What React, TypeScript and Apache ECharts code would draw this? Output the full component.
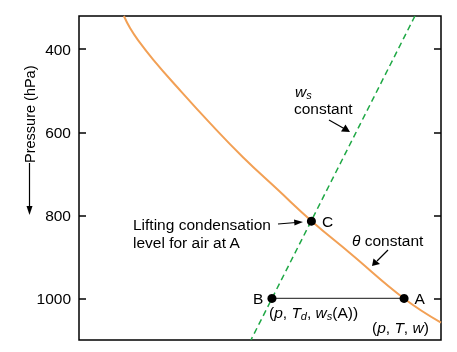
import React, { useEffect, useRef } from "react";
import * as echarts from "echarts";

// theta-constant curve (dry adiabat), x in arbitrary temperature units, p in hPa
const thetaX = [12.4, 14.1, 16.3, 20.6, 27.1, 36.2, 45.3, 55.0, 64.3, 74.9, 89.8, 100];
const thetaP = [320, 349, 378, 426, 491, 578, 660, 739, 814, 891, 1000, 1058];
// ws-constant line
const wsX = [92.8, 47.5];
const wsP = [320, 1100];
// labelled points
const pointNames = ["B", "A", "C"];
const pointX = [53.3, 89.8, 64.2];
const pointP = [1000, 1000, 814];
const yTicks = [400, 600, 800, 1000];

const FONT = "Liberation Sans, Arial, Helvetica, sans-serif";
const FS = 15.5;

export default function App() {
  const ref = useRef<HTMLDivElement>(null);
  useEffect(() => {
    if (!ref.current) return;
    const chart = echarts.init(ref.current, null, { renderer: "svg" });
    const labelPos = ["left", "right", "right"];
    const labelDist = [4, 6, 6];
    const rich = {
      n: { fontSize: FS, fontFamily: FONT, color: "#000" },
      i: { fontSize: FS, fontFamily: FONT, fontStyle: "italic", color: "#000" },
      sub: { fontSize: 11, fontFamily: FONT, fontStyle: "italic", color: "#000", padding: [7, 0, 0, 0] },
    };
    chart.setOption({
      animation: false,
      grid: { left: 79, right: 16, top: 16, bottom: 12, show: true, borderColor: "#000", borderWidth: 1.5 },
      xAxis: {
        type: "value", min: 0, max: 100,
        axisLine: { show: false }, axisTick: { show: false }, axisLabel: { show: false }, splitLine: { show: false },
      },
      yAxis: [
        {
          type: "value", position: "left", inverse: true, min: 320, max: 1100,
          axisLine: { show: false },
          axisTick: { show: true, inside: true, length: 7, customValues: yTicks, lineStyle: { color: "#000", width: 1.5 } },
          axisLabel: { customValues: yTicks, formatter: (v: number) => String(v), margin: 8, fontSize: FS, color: "#000", fontFamily: FONT },
          splitLine: { show: false },
        },
        {
          type: "value", position: "right", inverse: true, min: 320, max: 1100,
          axisLine: { show: false },
          axisTick: { show: true, inside: true, length: 7, customValues: yTicks, lineStyle: { color: "#000", width: 1.5 } },
          axisLabel: { show: false },
          splitLine: { show: false },
        },
      ],
      series: [
        {
          type: "line", smooth: 0.45, symbol: "none",
          data: thetaX.map((x, i) => [x, thetaP[i]]),
          lineStyle: { color: "#f2a055", width: 2 },
        },
        {
          type: "line", symbol: "none",
          data: wsX.map((x, i) => [x, wsP[i]]),
          lineStyle: { color: "#1fa845", width: 1.5, type: [6, 4] },
        },
        {
          type: "line", symbol: "none",
          data: [[pointX[0], pointP[0]], [pointX[1], pointP[1]]],
          lineStyle: { color: "#444", width: 1.2 },
        },
        {
          type: "scatter", symbolSize: 9, z: 5, itemStyle: { color: "#000", opacity: 1 },
          data: pointNames.map((n, i) => ({
            value: [pointX[i], pointP[i]], name: n,
            label: { show: true, position: labelPos[i], formatter: n, distance: labelDist[i], fontSize: FS, color: "#000", fontFamily: FONT },
          })),
        },
      ],
      graphic: [
        // y-axis title and arrow
        { type: "text", x: 22, y: 163, rotation: Math.PI / 2, style: { text: "Pressure (hPa)", fontSize: 14.5, fontFamily: FONT, fill: "#000", align: "left", verticalAlign: "top" } },
        { type: "line", shape: { x1: 29.5, y1: 163, x2: 29.5, y2: 208 }, style: { stroke: "#000", lineWidth: 1.2 } },
        { type: "polygon", shape: { points: [[26.5, 206], [32.5, 206], [29.5, 215]] }, style: { fill: "#000" } },
        // LCL annotation
        { type: "text", x: 133, y: 215.5, style: { text: "Lifting condensation\nlevel for air at A", fontSize: FS, lineHeight: 18, fontFamily: FONT, fill: "#000" } },
        { type: "line", shape: { x1: 278, y1: 224, x2: 296, y2: 222.5 }, style: { stroke: "#000", lineWidth: 1.2 } },
        { type: "polygon", shape: { points: [[294, 219.5], [303, 222], [294.5, 225.5]] }, style: { fill: "#000" } },
        // ws constant
        { type: "text", x: 295, y: 82, style: { text: "{i|w}{sub|s}", rich } },
        { type: "text", x: 294, y: 100.5, style: { text: "constant", fontSize: FS, fontFamily: FONT, fill: "#000" } },
        { type: "line", shape: { x1: 329, y1: 120, x2: 344, y2: 128.5 }, style: { stroke: "#000", lineWidth: 1.2 } },
        { type: "polygon", shape: { points: [[341, 131.5], [345.5, 124.5], [350, 132]] }, style: { fill: "#000" } },
        // theta constant
        { type: "text", x: 352, y: 232.5, style: { text: "{i|θ}{n| constant}", rich } },
        { type: "line", shape: { x1: 388, y1: 250, x2: 377, y2: 261 }, style: { stroke: "#000", lineWidth: 1.2 } },
        { type: "polygon", shape: { points: [[373.5, 258.5], [380, 264], [372, 266]] }, style: { fill: "#000" } },
        // point descriptors
        { type: "text", x: 269, y: 303.5, style: { text: "{n|(}{i|p}{n|, }{i|T}{sub|d}{n|, }{i|w}{sub|s}{n|(A))}", rich } },
        { type: "text", x: 372, y: 319, style: { text: "{n|(}{i|p}{n|, }{i|T}{n|, }{i|w}{n|)}", rich } },
      ],
    });
    return () => chart.dispose();
  }, []);
  return <div ref={ref} style={{ position: "fixed", left: 0, top: 0, width: 457, height: 352 }} />;
}
